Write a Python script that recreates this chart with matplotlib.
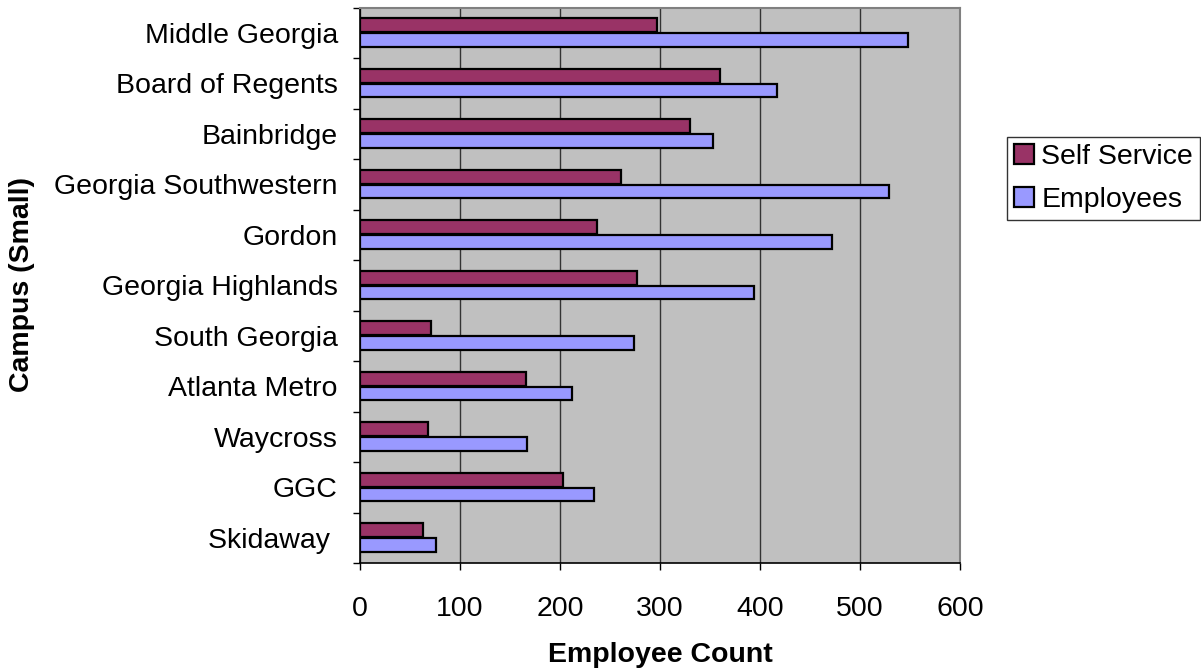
import matplotlib
matplotlib.use("Agg")
import matplotlib.pyplot as plt
import numpy as np

plt.rcParams['font.family'] = ['Liberation Sans', 'DejaVu Sans']

# campuses listed top to bottom as in the chart
campuses = ['Middle Georgia', 'Board of Regents', 'Bainbridge', 'Georgia Southwestern',
            'Gordon', 'Georgia Highlands', 'South Georgia', 'Atlanta Metro',
            'Waycross', 'GGC', 'Skidaway ']
self_service = [297, 360, 330, 261, 237, 277, 71, 166, 68, 203, 63]
employees = [548, 417, 353, 529, 472, 394, 274, 212, 167, 234, 76]
x_ticks = [0, 100, 200, 300, 400, 500, 600]

fig = plt.figure(figsize=(12.01, 6.72), dpi=100)
ax = fig.add_axes([360 / 1201, 1 - 563 / 672, 600 / 1201, (563 - 7.5) / 672])
ax.set_facecolor('#C0C0C0')

y = np.arange(len(campuses))
h = 0.27
ax.barh(y - 0.148, self_service, height=h, color='#993366', edgecolor='black',
        linewidth=1.6, label='Self Service', zorder=3)
ax.barh(y + 0.14, employees, height=h, color='#9999FF', edgecolor='black',
        linewidth=1.6, label='Employees', zorder=3)

ax.set_xlim(0, 600)
ax.set_ylim(len(campuses) - 0.5, -0.5)
ax.set_xticks(x_ticks)
ax.set_xticklabels([str(v) for v in x_ticks])
ax.set_yticks(y)
ax.set_yticklabels(campuses)
ax.set_yticks(np.arange(len(campuses) + 1) - 0.5, minor=True)

ax.tick_params(axis='y', which='major', length=0, pad=16, labelsize=20.5)
ax.tick_params(axis='y', which='minor', length=5, width=1, color='black')
ax.tick_params(axis='x', which='major', length=5, width=1, pad=19, labelsize=20.5)

ax.grid(axis='x', color='#333333', linewidth=1, zorder=1)
ax.set_axisbelow(True)

for s in ['top', 'right']:
    ax.spines[s].set_color('#808080')
    ax.spines[s].set_linewidth(1.5)
for s in ['left', 'bottom']:
    ax.spines[s].set_color('black')
    ax.spines[s].set_linewidth(1.2)

ax.set_xlabel('Employee Count', fontsize=20.5, fontweight='bold', labelpad=14)
fig.text(22 / 1201, 1 - 285 / 672, 'Campus (Small)', rotation=90, fontsize=20.5,
         fontweight='bold', ha='center', va='center')

leg = ax.legend(loc='upper left', bbox_to_anchor=(1007 / 1201, 1 - 137 / 672),
                bbox_transform=fig.transFigure, fontsize=20.5, frameon=True,
                fancybox=False, edgecolor='black', handlelength=0.7,
                handleheight=0.7, handletextpad=0.25, labelspacing=0.6,
                borderpad=0.25, borderaxespad=0)
leg.get_frame().set_linewidth(1)

fig.savefig('out.png', dpi=100)
